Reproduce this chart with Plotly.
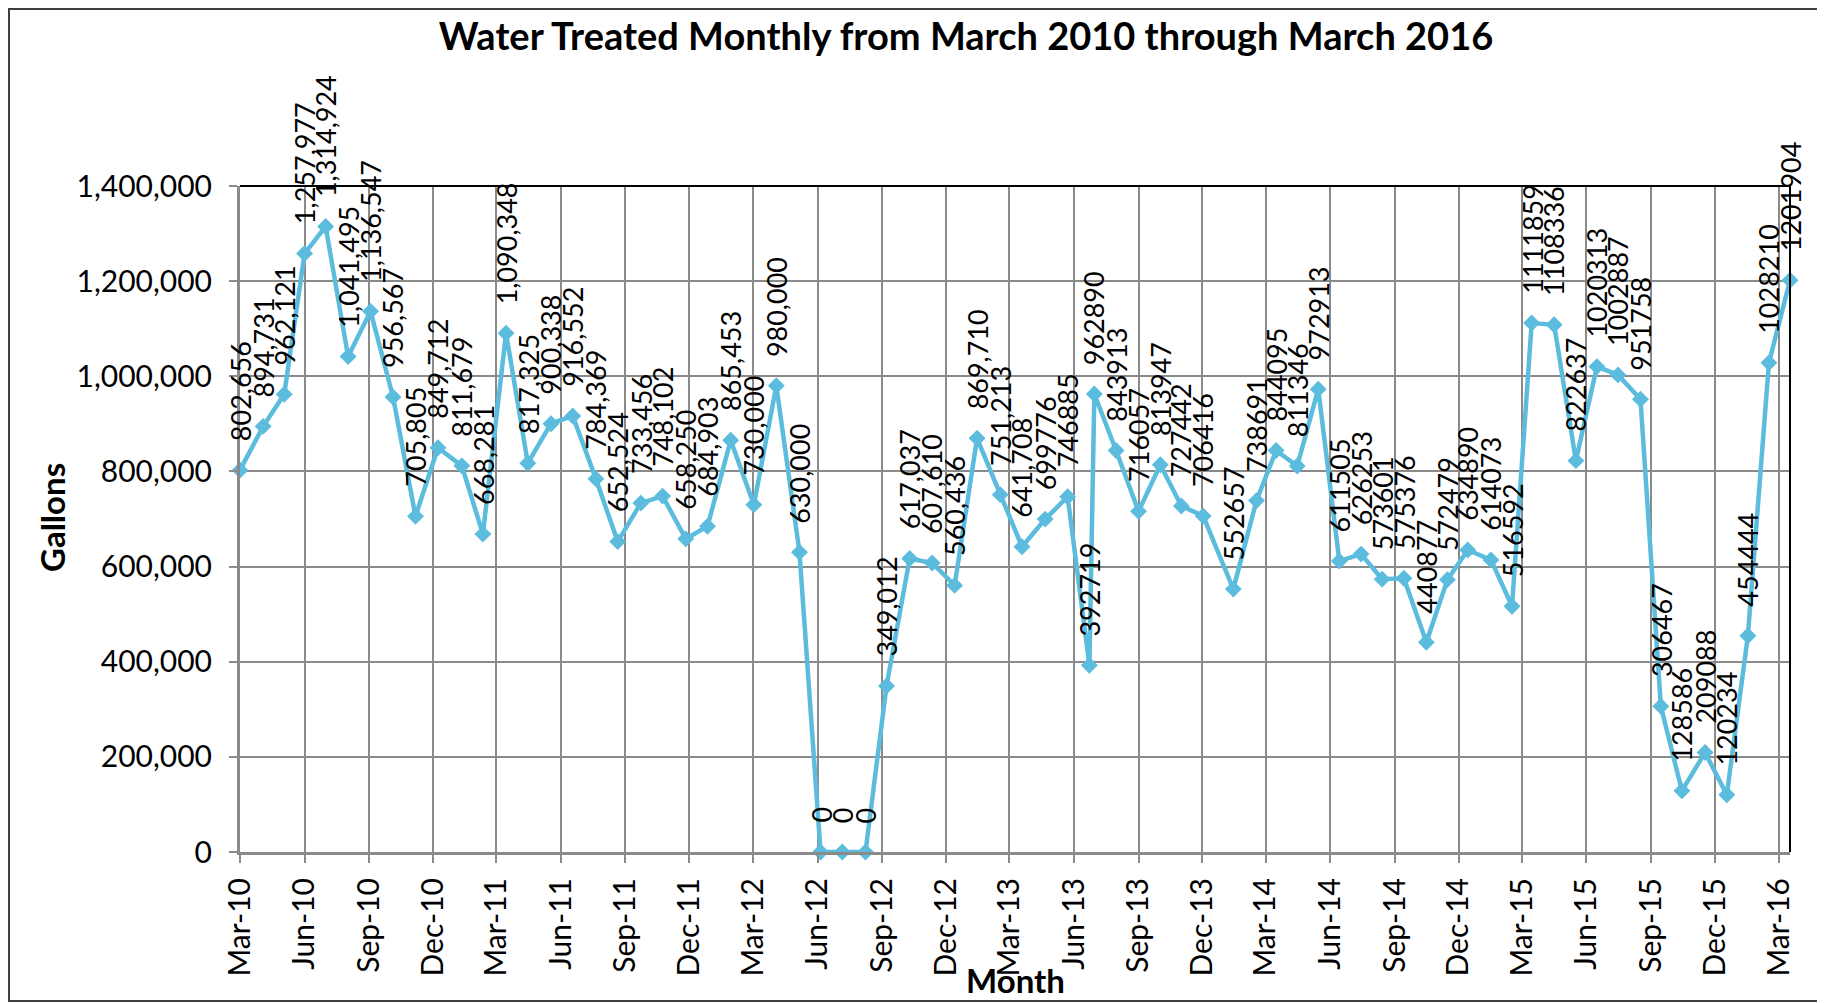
import plotly.graph_objects as go

# Reading dates and gallons treated
reading_dates = [
    "2010-03-01", "2010-04-03", "2010-05-03", "2010-06-01", "2010-07-01", "2010-08-02",
    "2010-09-03", "2010-10-05", "2010-11-06", "2010-12-08", "2011-01-11", "2011-02-10",
    "2011-03-15", "2011-04-15", "2011-05-18", "2011-06-18", "2011-07-21", "2011-08-21",
    "2011-09-23", "2011-10-24", "2011-11-26", "2011-12-27", "2012-01-29", "2012-03-02",
    "2012-04-03", "2012-05-06", "2012-06-05", "2012-07-06", "2012-08-08", "2012-09-07",
    "2012-10-10", "2012-11-11", "2012-12-13", "2013-01-14", "2013-02-16", "2013-03-19",
    "2013-04-21", "2013-05-23", "2013-06-23", "2013-06-30", "2013-07-31", "2013-09-01",
    "2013-10-02", "2013-11-01", "2013-12-02", "2014-01-14", "2014-02-16", "2014-03-16",
    "2014-04-15", "2014-05-15", "2014-06-14", "2014-07-15", "2014-08-14", "2014-09-14",
    "2014-10-16", "2014-11-15", "2014-12-14", "2015-01-16", "2015-02-15", "2015-03-15",
    "2015-04-16", "2015-05-17", "2015-06-16", "2015-07-16", "2015-08-17", "2015-09-15",
    "2015-10-15", "2015-11-17", "2015-12-18", "2016-01-17", "2016-02-16", "2016-03-17",
]
gallons = [
    802656, 894731, 962121, 1257977, 1314924, 1041495,
    1136547, 956567, 705805, 849712, 811679, 668281,
    1090348, 817325, 900338, 916552, 784369, 652524,
    733456, 748102, 658250, 684903, 865453, 730000,
    980000, 630000, 0, 0, 0, 349012,
    617037, 607610, 560436, 869710, 751213, 641708,
    699776, 746885, 392719, 962890, 843913, 716057,
    813947, 727442, 706416, 552657, 738691, 844095,
    811346, 972913, 611505, 626253, 573601, 575376,
    440877, 572479, 634890, 614073, 516592, 1111859,
    1108336, 822637, 1020313, 1002887, 951758, 306467,
    128586, 209088, 120234, 454444, 1028210, 1201904,
]
# data labels: the first readings were labelled with thousands separators
labels_with_commas = 36
y_ticks = [0, 200000, 400000, 600000, 800000, 1000000, 1200000, 1400000]

title_text = "Water Treated Monthly from March 2010 through March 2016"
x_title = "Month"
y_title = "Gallons"

LINE = "#5BBCDD"
GRID = "#8A8A8A"
FONT = "Lato"

# the page places the figure 8px in from the top-left corner
OFF = 8
W, H = 1825 - OFF, 1003 - OFF
L, T = 240 - OFF, 186 - OFF
R = W - (1790 - OFF)
B = H - (852 - OFF)
pw, ph = W - L - R, H - T - B


def px_x(px):
    return (px - OFF - L) / pw


def px_y(py):
    return (H - B - (py - OFF)) / ph


fig = go.Figure()
fig.add_trace(go.Scatter(
    x=reading_dates, y=gallons, mode="lines+markers",
    line=dict(color=LINE, width=4.5),
    marker=dict(symbol="diamond", size=13, color=LINE),
    cliponaxis=False, hoverinfo="skip", showlegend=False,
))

for i, (d, v) in enumerate(zip(reading_dates, gallons)):
    txt = f"{v:,}" if i < labels_with_commas else str(v)
    fig.add_annotation(
        x=d, y=v, text=txt, textangle=-90, showarrow=False,
        xanchor="center", yanchor="bottom", yshift=27,
        font=dict(family=FONT, size=27, color="black"),
    )

# axis titles
fig.add_annotation(
    xref="paper", yref="paper", x=px_x(52), y=px_y(518), text=y_title,
    textangle=-90, showarrow=False, xanchor="center", yanchor="middle",
    font=dict(family=FONT, size=33, color="black", weight=700),
)
fig.add_annotation(
    xref="paper", yref="paper", x=px_x(1015), y=px_y(980), text=x_title,
    showarrow=False, xanchor="center", yanchor="middle",
    font=dict(family=FONT, size=33, color="black", weight=700),
)

# plot-area frame (top and right in black)
fig.add_shape(type="line", xref="paper", yref="paper", x0=0, x1=1, y0=1, y1=1,
              line=dict(color="black", width=2), layer="above")
fig.add_shape(type="line", xref="paper", yref="paper", x0=1, x1=1, y0=0, y1=1,
              line=dict(color="black", width=2), layer="above")
# chart-area border
fig.add_shape(type="rect", xref="paper", yref="paper",
              x0=px_x(OFF + 1), x1=px_x(1820), y0=px_y(1001), y1=px_y(OFF + 1),
              line=dict(color="#404040", width=2), fillcolor="rgba(0,0,0,0)")

fig.update_layout(
    width=W, height=H,
    margin=dict(l=L, r=R, t=T, b=B, autoexpand=False),
    paper_bgcolor="white", plot_bgcolor="white",
    hovermode=False,
    title=dict(
        text=title_text, xref="container", yref="container",
        x=(966 - OFF) / W, y=1 - (37 - OFF) / H, xanchor="center", yanchor="middle",
        font=dict(family=FONT, size=38, color="black", weight=700),
    ),
    xaxis=dict(
        type="date", range=["2010-03-01", "2016-03-17"],
        tick0="2010-03-01", dtick="M3", tickformat="%b-%y", tickangle=-90,
        showgrid=True, gridcolor=GRID, gridwidth=2,
        showline=True, linecolor=GRID, linewidth=3,
        ticks="outside", ticklen=8, tickcolor=GRID, tickwidth=2,
        ticklabelstandoff=3,
        tickfont=dict(family=FONT, size=30, color="black"),
        zeroline=False,
    ),
    yaxis=dict(
        range=[0, 1400000], tickvals=y_ticks, tickformat=",",
        showgrid=True, gridcolor=GRID, gridwidth=2,
        showline=True, linecolor=GRID, linewidth=3,
        ticks="outside", ticklen=8, tickcolor=GRID, tickwidth=2,
        ticklabelstandoff=11,
        tickfont=dict(family=FONT, size=30, color="black"),
        zeroline=False,
    ),
)

fig.write_html("out.html")
